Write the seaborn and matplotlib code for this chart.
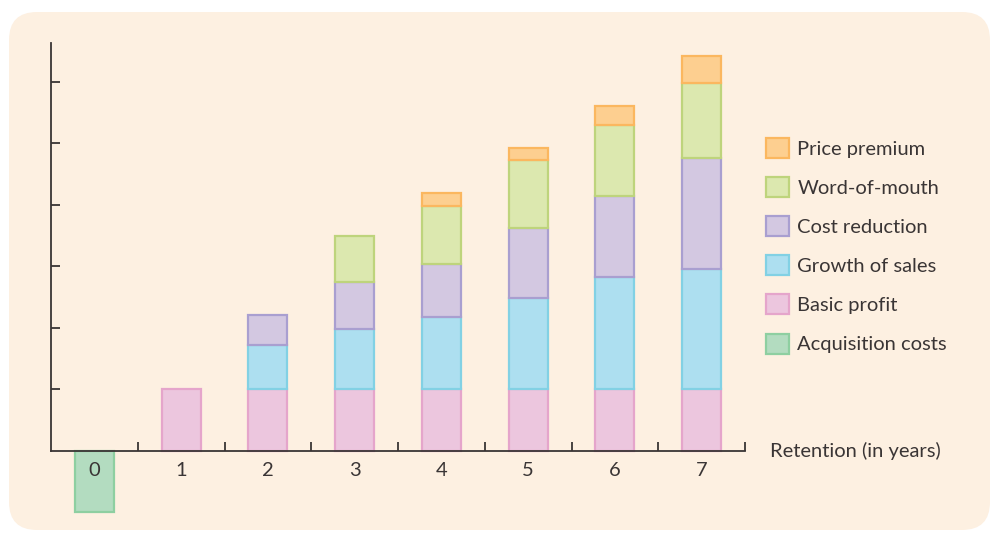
import numpy as np
import matplotlib
matplotlib.use("Agg")
import matplotlib.pyplot as plt
import matplotlib.patches as mpatches
from matplotlib.transforms import IdentityTransform
import seaborn as sns

years = ["0", "1", "2", "3", "4", "5", "6", "7"]
acquisition_costs = [-1, 0, 0, 0, 0, 0, 0, 0]
basic_profit = [0, 1, 1, 1, 1, 1, 1, 1]
growth_of_sales = [0, 0, 0.73, 0.98, 1.18, 1.49, 1.83, 1.96]
cost_reduction = [0, 0, 0.48, 0.77, 0.86, 1.14, 1.31, 1.80]
word_of_mouth = [0, 0, 0, 0.75, 0.95, 1.10, 1.16, 1.23]
price_premium = [0, 0, 0, 0, 0.20, 0.20, 0.31, 0.44]

# (label, values, fill, edge) bottom to top
stack = [
    ("Basic profit", basic_profit, "#ecc6de", "#e5a5cb"),
    ("Growth of sales", growth_of_sales, "#addff0", "#82d1e4"),
    ("Cost reduction", cost_reduction, "#d3c8e1", "#a99fd0"),
    ("Word-of-mouth", word_of_mouth, "#dce8af", "#bed47c"),
    ("Price premium", price_premium, "#fdcf90", "#fbb75f"),
]
acq_style = ("Acquisition costs", acquisition_costs, "#b3dcc0", "#8ecfa1")

sns.set_style("ticks")
plt.rcParams["font.family"] = ["Lato", "DejaVu Sans"]
ink = "#3a3535"
fs = 14.5

fig = plt.figure(figsize=(9.94, 5.36), dpi=100)
fig.patch.set_facecolor("white")

# rounded cream panel behind everything
panel = mpatches.FancyBboxPatch((9, 6), 981, 518,
                                boxstyle="round,pad=0,rounding_size=28",
                                transform=IdentityTransform(),
                                facecolor="#fdf0e1", edgecolor="none", zorder=-5)
fig.add_artist(panel)

ax = fig.add_axes([51 / 994, 0.0209, 694 / 994, 0.8989])
ax.set_facecolor("none")

x = np.array(years)
bottom = np.zeros(len(years))
for label, vals, fill, edge in stack:
    vals = np.array(vals, dtype=float)
    m = vals != 0
    sns.barplot(x=x[m], y=vals[m], order=years, bottom=bottom[m], width=0.45,
                color=fill, edgecolor=edge, linewidth=1.6, saturation=1,
                errorbar=None, ax=ax)
    bottom += vals

label, vals, fill, edge = acq_style
vals = np.array(vals, dtype=float)
m = vals != 0
sns.barplot(x=x[m], y=vals[m], order=years, width=0.45, color=fill,
            edgecolor=edge, linewidth=1.6, saturation=1, errorbar=None, ax=ax)

ax.set_xlim(-0.5, 7.5)
ax.set_ylim(-1.2, 6.634)
ax.set_xlabel("")
ax.set_ylabel("")
ax.set_axisbelow(False)

for s in ["top", "right"]:
    ax.spines[s].set_visible(False)
ax.spines["bottom"].set_position(("data", 0))
ax.spines["left"].set_bounds(0, 6.634)
for s in ["bottom", "left"]:
    ax.spines[s].set_color(ink)
    ax.spines[s].set_linewidth(1.3)

ax.set_xticks(range(len(years)))
ax.set_xticklabels(years)
ax.set_xticks(np.arange(0.5, 8, 1), minor=True)
ax.tick_params(axis="x", which="major", length=0, pad=8, labelsize=fs, labelcolor=ink)
ax.tick_params(axis="x", which="minor", direction="in", length=6.5, width=1.3, color=ink)
ax.set_yticks([1, 2, 3, 4, 5, 6])
ax.set_yticklabels([])
ax.tick_params(axis="y", direction="in", length=6.5, width=1.3, color=ink)

fig.text(770 / 994, (536 - 451) / 536, "Retention (in years)", fontsize=fs,
         color=ink, va="center", ha="left")

handles = []
for label, vals, fill, edge in stack[::-1] + [acq_style]:
    handles.append(mpatches.Patch(facecolor=fill, edgecolor=edge, linewidth=1.6, label=label))
leg = fig.legend(handles=handles, loc="upper left",
                 bbox_to_anchor=(766 / 994, (536 - 138) / 536),
                 frameon=False, fontsize=fs, borderpad=0, borderaxespad=0,
                 handlelength=1.15, handleheight=1.15, handletextpad=0.4,
                 labelspacing=0.95)
for t in leg.get_texts():
    t.set_color(ink)

plt.savefig("out.png", dpi=100)
plt.close()
